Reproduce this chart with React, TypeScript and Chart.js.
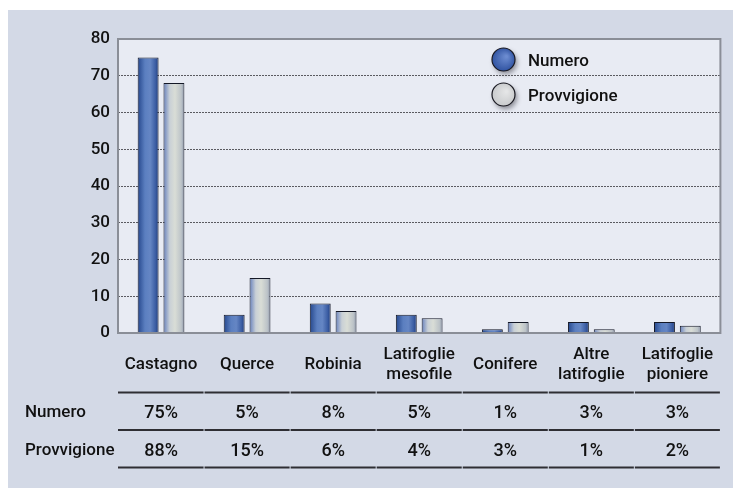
import React, { useEffect, useRef } from "react";
import { Chart, registerables } from "chart.js";

Chart.register(...registerables);

const CATEGORIES: string[][] = [
  ["Castagno"],
  ["Querce"],
  ["Robinia"],
  ["Latifoglie", "mesofile"],
  ["Conifere"],
  ["Altre", "latifoglie"],
  ["Latifoglie", "pioniere"],
];
const SERIES_NAMES = ["Numero", "Provvigione"];
const NUMERO = [75, 5, 8, 5, 1, 3, 3];
const PROVVIGIONE = [68, 15, 6, 4, 3, 1, 2];
const NUMERO_PCT = ["75%", "5%", "8%", "5%", "1%", "3%", "3%"];
const PROVVIGIONE_PCT = ["88%", "15%", "6%", "4%", "3%", "1%", "2%"];
const Y_MIN = 0;
const Y_MAX = 80;
const Y_STEP = 10;

const CAT_PCT = 0.6;
const BAR_PCT = 0.81;
const FONT = "Roboto, 'Liberation Sans', Arial, sans-serif";
const TEXT = "#111111";

function gradientFor(dsIndex: number) {
  return (ctx: any) => {
    const chart = ctx.chart;
    const xs = chart.scales && chart.scales.x;
    const fallback = dsIndex === 0 ? "#4a6db0" : "#d2d7d6";
    if (!xs || ctx.type !== "data" || xs.width == null) return fallback;
    const cw = xs.width / CATEGORIES.length;
    const slot = (cw * CAT_PCT) / 2;
    const bw = slot * BAR_PCT;
    const center = xs.getPixelForValue(ctx.dataIndex) + (dsIndex === 0 ? -slot / 2 : slot / 2);
    if (!isFinite(center)) return fallback;
    const g = chart.ctx.createLinearGradient(center - bw / 2, 0, center + bw / 2, 0);
    if (dsIndex === 0) {
      g.addColorStop(0, "#25478c");
      g.addColorStop(0.35, "#5b7fc0");
      g.addColorStop(0.6, "#6586c4");
      g.addColorStop(0.85, "#3c5ea4");
      g.addColorStop(1, "#1f3c7c");
    } else {
      g.addColorStop(0, "#6680bd");
      g.addColorStop(0.3, "#c9d0d6");
      g.addColorStop(0.55, "#d9ddd6");
      g.addColorStop(0.85, "#bcc3c8");
      g.addColorStop(1, "#8e98ab");
    }
    return g;
  };
}

const decorPlugin = {
  id: "decor",
  beforeDraw(chart: any) {
    const { ctx, chartArea: ca } = chart;
    ctx.save();
    ctx.fillStyle = "#ffffff";
    ctx.fillRect(0, 0, chart.width, chart.height);
    ctx.fillStyle = "#d3d9e6";
    ctx.fillRect(8, 10, 725, chart.height - 10);
    ctx.fillStyle = "#e8ebf3";
    ctx.fillRect(ca.left, ca.top, ca.right - ca.left, ca.bottom - ca.top);
    ctx.restore();
  },
  afterDatasetsDraw(chart: any) {
    const { ctx, chartArea: ca } = chart;
    const xs = chart.scales.x;
    ctx.save();
    // plot border
    ctx.strokeStyle = "#8a8e97";
    ctx.lineWidth = 2;
    ctx.strokeRect(ca.left, ca.top, ca.right - ca.left, ca.bottom - ca.top);

    // legend
    const legendX = 503.5;
    const legendY = [59.5, 94.5];
    const fills = [
      ["#2f52a0", "#6b8bd0"],
      ["#c8cacc", "#e4e5e6"],
    ];
    SERIES_NAMES.forEach((name, i) => {
      const cy = legendY[i];
      ctx.save();
      ctx.shadowColor = "rgba(60,60,70,0.55)";
      ctx.shadowBlur = 5;
      ctx.shadowOffsetX = 2;
      ctx.shadowOffsetY = 3;
      const rg = ctx.createRadialGradient(legendX + 3, cy - 3, 1, legendX, cy, 12);
      rg.addColorStop(0, fills[i][1]);
      rg.addColorStop(1, fills[i][0]);
      ctx.fillStyle = rg;
      ctx.beginPath();
      ctx.ellipse(legendX, cy, 11.5, 11.5, 0, 0, Math.PI * 2);
      ctx.fill();
      ctx.restore();
      ctx.strokeStyle = "#1a1a22";
      ctx.lineWidth = 1.2;
      ctx.beginPath();
      ctx.ellipse(legendX, cy, 11.5, 11.5, 0, 0, Math.PI * 2);
      ctx.stroke();
      ctx.fillStyle = TEXT;
      ctx.font = `500 17px ${FONT}`;
      ctx.textAlign = "left";
      ctx.textBaseline = "middle";
      ctx.fillText(name, 528, cy + 2);
    });

    // table
    const cw = (ca.right - ca.left) / CATEGORIES.length;
    const lineYs = [392.5, 430, 467.5];
    ctx.strokeStyle = "#2e2e33";
    ctx.lineWidth = 2;
    lineYs.forEach((y) => {
      for (let c = 0; c < CATEGORIES.length; c++) {
        const x0 = ca.left + c * cw + (c === 0 ? 0 : 0.5);
        const x1 = ca.left + (c + 1) * cw - 0.5;
        ctx.beginPath();
        ctx.moveTo(x0, y);
        ctx.lineTo(x1, y);
        ctx.stroke();
      }
    });
    ctx.fillStyle = TEXT;
    ctx.textBaseline = "middle";
    ctx.font = `500 17px ${FONT}`;
    ctx.textAlign = "left";
    ctx.fillText(SERIES_NAMES[0], 25, 413);
    ctx.fillText(SERIES_NAMES[1], 25, 451);
    ctx.font = `500 18px ${FONT}`;
    ctx.textAlign = "center";
    for (let c = 0; c < CATEGORIES.length; c++) {
      const x = xs.getPixelForValue(c);
      ctx.fillText(NUMERO_PCT[c], x, 413);
      ctx.fillText(PROVVIGIONE_PCT[c], x, 451);
    }
    ctx.restore();
  },
};

export default function App() {
  const ref = useRef<HTMLCanvasElement | null>(null);
  useEffect(() => {
    if (!ref.current) return;
    const chart = new Chart(ref.current, {
      type: "bar",
      data: {
        labels: CATEGORIES,
        datasets: [
          {
            label: SERIES_NAMES[0],
            data: NUMERO,
            backgroundColor: gradientFor(0) as any,
            borderColor: "#141826",
            borderWidth: 1,
            categoryPercentage: CAT_PCT,
            barPercentage: BAR_PCT,
          },
          {
            label: SERIES_NAMES[1],
            data: PROVVIGIONE,
            backgroundColor: gradientFor(1) as any,
            borderColor: "#141826",
            borderWidth: 1,
            categoryPercentage: CAT_PCT,
            barPercentage: BAR_PCT,
          },
        ],
      },
      options: {
        animation: false,
        responsive: false,
        maintainAspectRatio: false,
        layout: { padding: { top: 39, right: 13, left: 0, bottom: 0 } },
        plugins: {
          legend: { display: false },
          tooltip: { enabled: false },
        },
        scales: {
          x: {
            grid: { display: false, drawTicks: false },
            border: { display: false },
            ticks: {
              color: TEXT,
              font: { family: FONT, size: 17, weight: "500", lineHeight: 20 / 17 } as any,
              padding: 22,
              maxRotation: 0,
              autoSkip: false,
              crossAlign: "center",
            },
            afterFit: (s: any) => {
              s.height = 155;
            },
          },
          y: {
            min: Y_MIN,
            max: Y_MAX,
            ticks: {
              stepSize: Y_STEP,
              color: TEXT,
              font: { family: FONT, size: 17, weight: "500" } as any,
              padding: 8,
            },
            grid: {
              drawTicks: false,
              color: (c: any) =>
                c.tick && (c.tick.value === Y_MIN || c.tick.value === Y_MAX) ? "rgba(0,0,0,0)" : "#5a5a60",
              lineWidth: 1,
              borderDash: [2, 1],
            } as any,
            border: { display: false, dash: [2, 1] },
            afterFit: (s: any) => {
              s.width = 118;
            },
          },
        },
      },
      plugins: [decorPlugin],
    });
    return () => chart.destroy();
  }, []);
  return (
    <div style={{ position: "fixed", left: 0, top: 0, width: 736, height: 488 }}>
      <canvas ref={ref} width={736} height={488} style={{ display: "block", width: 736, height: 488 }} />
    </div>
  );
}
